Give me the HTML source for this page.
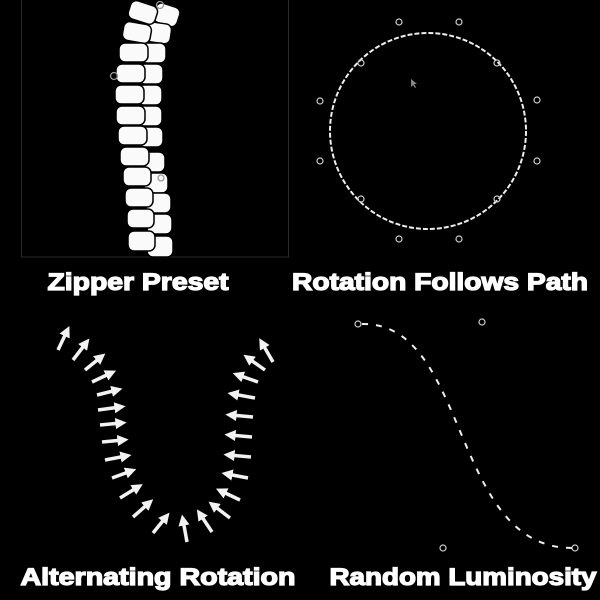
<!DOCTYPE html>
<html><head><style>
html,body{margin:0;padding:0;background:#000;}
svg{display:block;}
text{font-family:"Liberation Sans",sans-serif;font-weight:bold;fill:#fff;stroke:#fff;stroke-width:1.3px;font-size:24px;}
</style></head><body>
<svg width="600" height="600" viewBox="0 0 600 600" xmlns="http://www.w3.org/2000/svg">
<defs>
<marker id="ah" markerWidth="3.2" markerHeight="3.2" refX="1.6" refY="1.6" orient="auto" markerUnits="strokeWidth">
<path d="M0,0 L3.2,1.6 L0,3.2 z" fill="#f2f2f2"/>
</marker>
</defs>
<rect x="0" y="0" width="600" height="600" fill="#000"/>
<rect x="21.5" y="-1" width="267" height="258" fill="none" stroke="#2a2a2a" stroke-width="1"/>
<g fill="#fafafa" stroke="#000" stroke-width="1.5">
<rect x="154" y="5" width="25" height="20" rx="6" transform="rotate(18 167 15)"/>
<rect x="146" y="23" width="25" height="20" rx="6" transform="rotate(8 159 33)"/>
<rect x="141" y="43" width="25" height="20" rx="6"/>
<rect x="139" y="64" width="24" height="20" rx="6"/>
<rect x="138" y="85" width="24" height="20" rx="6"/>
<rect x="138" y="106" width="24" height="20" rx="6"/>
<rect x="139" y="127" width="24" height="20" rx="6"/>
<rect x="141" y="152" width="24" height="20" rx="6"/>
<rect x="144" y="173" width="24" height="20" rx="6"/>
<rect x="146" y="193" width="25" height="20" rx="6"/>
<rect x="147" y="214" width="25" height="20" rx="6"/>
<rect x="147" y="236" width="26" height="21" rx="6"/>
<rect x="129" y="3" width="28" height="19" rx="6" transform="rotate(18 143 12)"/>
<rect x="123" y="23" width="28" height="19" rx="6" transform="rotate(10 137 32)"/>
<rect x="119" y="43" width="29" height="19" rx="6"/>
<rect x="116" y="64" width="29" height="19" rx="6"/>
<rect x="115" y="85" width="29" height="19" rx="6"/>
<rect x="116" y="106" width="29" height="19" rx="6"/>
<rect x="118" y="126" width="29" height="19" rx="6"/>
<rect x="120" y="147" width="29" height="19" rx="6"/>
<rect x="123" y="167" width="28" height="19" rx="6"/>
<rect x="125" y="188" width="28" height="19" rx="6"/>
<rect x="127" y="209" width="27" height="19" rx="6"/>
<rect x="128" y="231" width="27" height="20" rx="6"/>
</g>
<circle cx="160" cy="5" r="3.5" fill="none" stroke="#999" stroke-width="1.3"/>
<circle cx="114" cy="76" r="3.5" fill="none" stroke="#999" stroke-width="1.3"/>
<circle cx="161" cy="178" r="3" fill="none" stroke="#999" stroke-width="1.3"/>
<text x="138" y="290" text-anchor="middle" textLength="181" lengthAdjust="spacingAndGlyphs">Zipper Preset</text>

<circle cx="428" cy="131" r="98" fill="none" stroke="#eee" stroke-width="2" stroke-dasharray="5 2"/>
<g fill="none" stroke="#ccc" stroke-width="1.2">
<circle cx="399" cy="22" r="3"/><circle cx="459" cy="22" r="3"/>
<circle cx="320" cy="101" r="3"/><circle cx="537" cy="100" r="3"/>
<circle cx="320" cy="161" r="3"/><circle cx="537" cy="161" r="3"/>
<circle cx="399" cy="239" r="3"/><circle cx="459" cy="239" r="3"/>
<circle cx="361" cy="63" r="3"/><circle cx="497" cy="63" r="3"/>
<circle cx="361" cy="199" r="3"/><circle cx="497" cy="199" r="3"/>
</g>
<path d="M411,79 L411,87 L413,85 L415,88 L416,87 L414,84 L417,84 z" fill="#888"/>
<text x="440" y="290" text-anchor="middle" textLength="296" lengthAdjust="spacingAndGlyphs">Rotation Follows Path</text>

<g stroke="#f2f2f2" stroke-width="3.5" marker-end="url(#ah)">
<line x1="58" y1="350" x2="67" y2="331"/>
<line x1="73" y1="360" x2="86" y2="343"/>
<line x1="85" y1="370" x2="101" y2="357"/>
<line x1="92" y1="382" x2="111" y2="373"/>
<line x1="97" y1="395" x2="117" y2="390"/>
<line x1="98" y1="410" x2="120" y2="407"/>
<line x1="100" y1="425" x2="121" y2="423"/>
<line x1="102" y1="442" x2="123" y2="440"/>
<line x1="105" y1="460" x2="126" y2="456"/>
<line x1="112" y1="478" x2="131" y2="471"/>
<line x1="120" y1="498" x2="138" y2="487"/>
<line x1="133" y1="517" x2="149" y2="503"/>
<line x1="153" y1="533" x2="166" y2="517"/>
<line x1="187" y1="542" x2="183" y2="520"/>
<line x1="212" y1="532" x2="200" y2="514"/>
<line x1="230" y1="518" x2="213" y2="505"/>
<line x1="240" y1="500" x2="221" y2="491"/>
<line x1="248" y1="478" x2="227" y2="474"/>
<line x1="251" y1="457" x2="229" y2="455"/>
<line x1="252" y1="437" x2="230" y2="435"/>
<line x1="253" y1="417" x2="231" y2="415"/>
<line x1="255" y1="398" x2="233" y2="394"/>
<line x1="258" y1="382" x2="238" y2="375"/>
<line x1="265" y1="370" x2="248" y2="358"/>
<line x1="273" y1="362" x2="262" y2="343"/>
</g>
<text x="158" y="585" text-anchor="middle" textLength="275" lengthAdjust="spacingAndGlyphs">Alternating Rotation</text>

<path d="M362,324 C470,322 450,548 572,548" fill="none" stroke="#eee" stroke-width="2" stroke-dasharray="6 8"/>
<g fill="none" stroke="#ccc" stroke-width="1.2">
<circle cx="358" cy="324" r="3"/><circle cx="482" cy="322" r="3"/>
<circle cx="443" cy="548" r="3"/><circle cx="575" cy="548" r="3"/>
</g>
<text x="463" y="585" text-anchor="middle" textLength="267" lengthAdjust="spacingAndGlyphs">Random Luminosity</text>
</svg>
</body></html>
